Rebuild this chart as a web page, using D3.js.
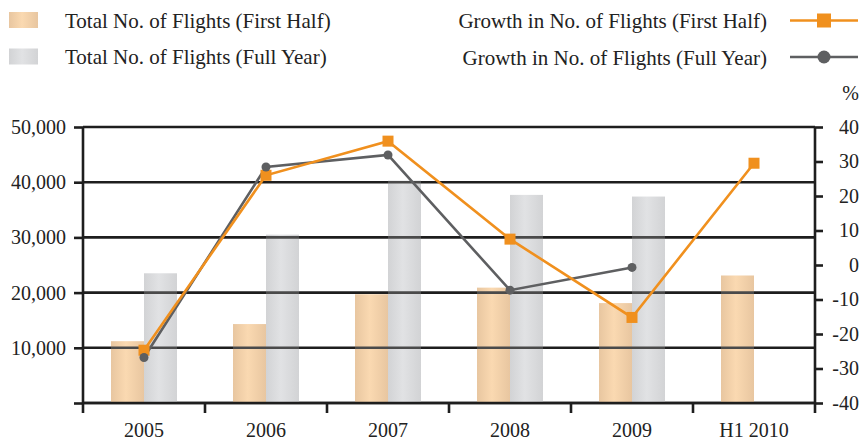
<!DOCTYPE html>
<html>
<head>
<meta charset="utf-8">
<script src="https://cdn.jsdelivr.net/npm/d3@7"></script>
<style>
  body { margin: 0; background: #fff; }
  svg { display: block; font-family: "Liberation Serif", "DejaVu Serif", serif; }
</style>
</head>
<body>
<div id="chart"></div>
<script>
// data
var years = ["2005", "2006", "2007", "2008", "2009", "H1 2010"];
var flightsFirstHalf = [11200, 14300, 19700, 20900, 18100, 23100];
var flightsFullYear = [23500, 30500, 40300, 37700, 37400, null];
var growthFirstHalf = [-24.7, 26.0, 35.9, 7.5, -15.2, 29.5];
var growthFullYear = [-26.8, 28.4, 31.9, -7.3, -0.7, null];
var leftTicks = [0, 10000, 20000, 30000, 40000, 50000];
var rightTicks = [-40, -30, -20, -10, 0, 10, 20, 30, 40];

var W = 860, H = 441;
var margin = { top: 127, right: 45, bottom: 38, left: 83 };
var w = W - margin.left - margin.right,
    h = H - margin.top - margin.bottom;
var serif = "Liberation Serif, DejaVu Serif, serif";

var svg = d3.select("#chart").append("svg")
    .attr("width", W)
    .attr("height", H)
    .attr("font-family", serif);

var defs = svg.append("defs");
// bar gradients (lighter in the middle)
function grad(id, edge, mid) {
  var g = defs.append("linearGradient").attr("id", id)
      .attr("x1", "0%").attr("x2", "100%").attr("y1", "0%").attr("y2", "0%");
  g.append("stop").attr("offset", "0%").attr("stop-color", edge);
  g.append("stop").attr("offset", "45%").attr("stop-color", mid);
  g.append("stop").attr("offset", "100%").attr("stop-color", edge);
}
grad("gOrange", "#e8c6a0", "#fad9b1");
grad("gGrey", "#d2d3d5", "#e1e2e4");

var g = svg.append("g")
    .attr("transform", "translate(" + margin.left + "," + margin.top + ")");

var x = d3.scaleBand().domain(years).range([0, w]);
var y = d3.scaleLinear().domain([0, 50000]).range([h, 0]);
var y2 = d3.scaleLinear().domain([-40, 40]).range([h, 0]);

var barW = 33;

// gridlines behind the bars
g.append("g").selectAll("line.grid")
    .data(leftTicks)
    .enter().append("line")
    .attr("class", "grid")
    .attr("x1", 0).attr("x2", w)
    .attr("y1", function(d) { return y(d); })
    .attr("y2", function(d) { return y(d); })
    .attr("stroke", "#1e1e1e")
    .style("stroke-width", 2.6);

var bars = [];
years.forEach(function(yr, i) {
  bars.push({ yr: yr, v: flightsFirstHalf[i], off: -barW, fill: "url(#gOrange)" });
  if (flightsFullYear[i] != null)
    bars.push({ yr: yr, v: flightsFullYear[i], off: 0, fill: "url(#gGrey)" });
});

function barX(d) { return x(d.yr) + x.bandwidth() / 2 + d.off; }

g.append("g").selectAll("rect")
    .data(bars)
    .enter().append("rect")
    .attr("x", barX)
    .attr("y", function(d) { return y(d.v); })
    .attr("width", barW)
    .attr("height", function(d) { return h - y(d.v); })
    .style("fill", function(d) { return d.fill; });

// gridlines show through the bars a bit lighter
var clip = defs.append("clipPath").attr("id", "barClip");
clip.selectAll("rect")
    .data(bars)
    .enter().append("rect")
    .attr("x", barX)
    .attr("y", function(d) { return y(d.v); })
    .attr("width", barW)
    .attr("height", function(d) { return h - y(d.v); });

g.append("g").attr("clip-path", "url(#barClip)")
    .selectAll("line")
    .data(leftTicks.filter(function(d) { return d > 0; }))
    .enter().append("line")
    .attr("x1", 0).attr("x2", w)
    .attr("y1", function(d) { return y(d); })
    .attr("y2", function(d) { return y(d); })
    .attr("stroke", "#4a4a4a")
    .style("stroke-width", 2.6);

// axes
var axisCol = "#1e1e1e";
var yAxisL = g.append("g")
    .call(d3.axisLeft(y).tickValues(leftTicks).tickSize(9).tickPadding(8)
      .tickFormat(function(d) { return d == 0 ? "" : d3.format(",")(d); }));
var yAxisR = g.append("g")
    .attr("transform", "translate(" + w + ",0)")
    .call(d3.axisRight(y2).tickValues(rightTicks).tickSize(8).tickPadding(0)
      .tickFormat(function(d) { return d; }));
var xAxis = g.append("g")
    .attr("transform", "translate(0," + h + ")")
    .call(d3.axisBottom(x).tickSize(0).tickPadding(20));

[yAxisL, yAxisR, xAxis].forEach(function(a) {
  a.attr("font-family", serif).attr("font-size", 20);
  a.select(".domain").remove();
  a.selectAll("line").attr("stroke", axisCol).style("stroke-width", 2.6);
  a.selectAll("text").attr("fill", "#222");
});
yAxisR.selectAll("text").attr("text-anchor", "end").attr("x", 44);

// axis lines that run past the bottom
g.append("line").attr("x1", 0).attr("x2", 0).attr("y1", 0).attr("y2", h + 10)
    .attr("stroke", axisCol).style("stroke-width", 2.6);
g.append("line").attr("x1", w).attr("x2", w).attr("y1", 0).attr("y2", h + 10)
    .attr("stroke", axisCol).style("stroke-width", 2.6);
g.append("line").attr("x1", 0).attr("x2", w).attr("y1", h).attr("y2", h)
    .attr("stroke", axisCol).style("stroke-width", 2.6);

// category separators
g.append("g").selectAll("line")
    .data(years.slice(1))
    .enter().append("line")
    .attr("x1", function(d) { return x(d); })
    .attr("x2", function(d) { return x(d); })
    .attr("y1", h).attr("y2", h + 10)
    .attr("stroke", axisCol).style("stroke-width", 2.6);

g.append("text")
    .attr("x", w + 44).attr("y", -27)
    .attr("text-anchor", "end")
    .attr("font-size", 20)
    .attr("fill", "#222")
    .text("%");

// growth lines
var cx = function(i) { return x(years[i]) + x.bandwidth() / 2; };
var orange = "#f0901e", grey = "#5e5f61";

var line = d3.line()
    .defined(function(d) { return d != null; })
    .x(function(d, i) { return cx(i); })
    .y(function(d) { return y2(d); });

g.append("path").datum(growthFullYear)
    .attr("d", line)
    .attr("stroke", grey).style("stroke-width", 2.6).style("fill", "none");
g.append("path").datum(growthFirstHalf)
    .attr("d", line)
    .attr("stroke", orange).style("stroke-width", 2.6).style("fill", "none");

g.append("g").selectAll("rect")
    .data(growthFirstHalf)
    .enter().append("rect")
    .attr("x", function(d, i) { return cx(i) - 5.5; })
    .attr("y", function(d) { return y2(d) - 5.5; })
    .attr("width", 11).attr("height", 11)
    .style("fill", orange);

g.append("g").selectAll("circle")
    .data(growthFullYear.map(function(d, i) { return { v: d, i: i }; })
      .filter(function(d) { return d.v != null; }))
    .enter().append("circle")
    .attr("cx", function(d) { return cx(d.i); })
    .attr("cy", function(d) { return y2(d.v); })
    .attr("r", 4.5)
    .style("fill", grey);

// legend
var legL = [
  { label: "Total No. of Flights (First Half)", fill: "url(#gOrange)" },
  { label: "Total No. of Flights (Full Year)", fill: "url(#gGrey)" }
];
var legR = [
  { label: "Growth in No. of Flights (First Half)", color: orange, shape: "square" },
  { label: "Growth in No. of Flights (Full Year)", color: grey, shape: "circle" }
];

legL.forEach(function(d, i) {
  var yy = 20 + i * 36.5;
  svg.append("rect").attr("x", 9).attr("y", yy - 8).attr("width", 29).attr("height", 16)
      .style("fill", d.fill);
  svg.append("text").attr("x", 65).attr("y", yy + 7.5)
      .attr("font-size", 21).attr("fill", "#222").text(d.label);
});

legR.forEach(function(d, i) {
  var yy = 20.5 + i * 36.5;
  svg.append("text").attr("x", 767).attr("y", yy + 7.5)
      .attr("text-anchor", "end")
      .attr("font-size", 21).attr("fill", "#222").text(d.label);
  svg.append("line").attr("x1", 790).attr("x2", 858).attr("y1", yy).attr("y2", yy)
      .attr("stroke", d.color).style("stroke-width", 2.6);
  if (d.shape == "square")
    svg.append("rect").attr("x", 817).attr("y", yy - 7).attr("width", 14).attr("height", 14)
        .style("fill", d.color);
  else
    svg.append("circle").attr("cx", 824).attr("cy", yy).attr("r", 6.5).style("fill", d.color);
});
</script>
</body>
</html>
